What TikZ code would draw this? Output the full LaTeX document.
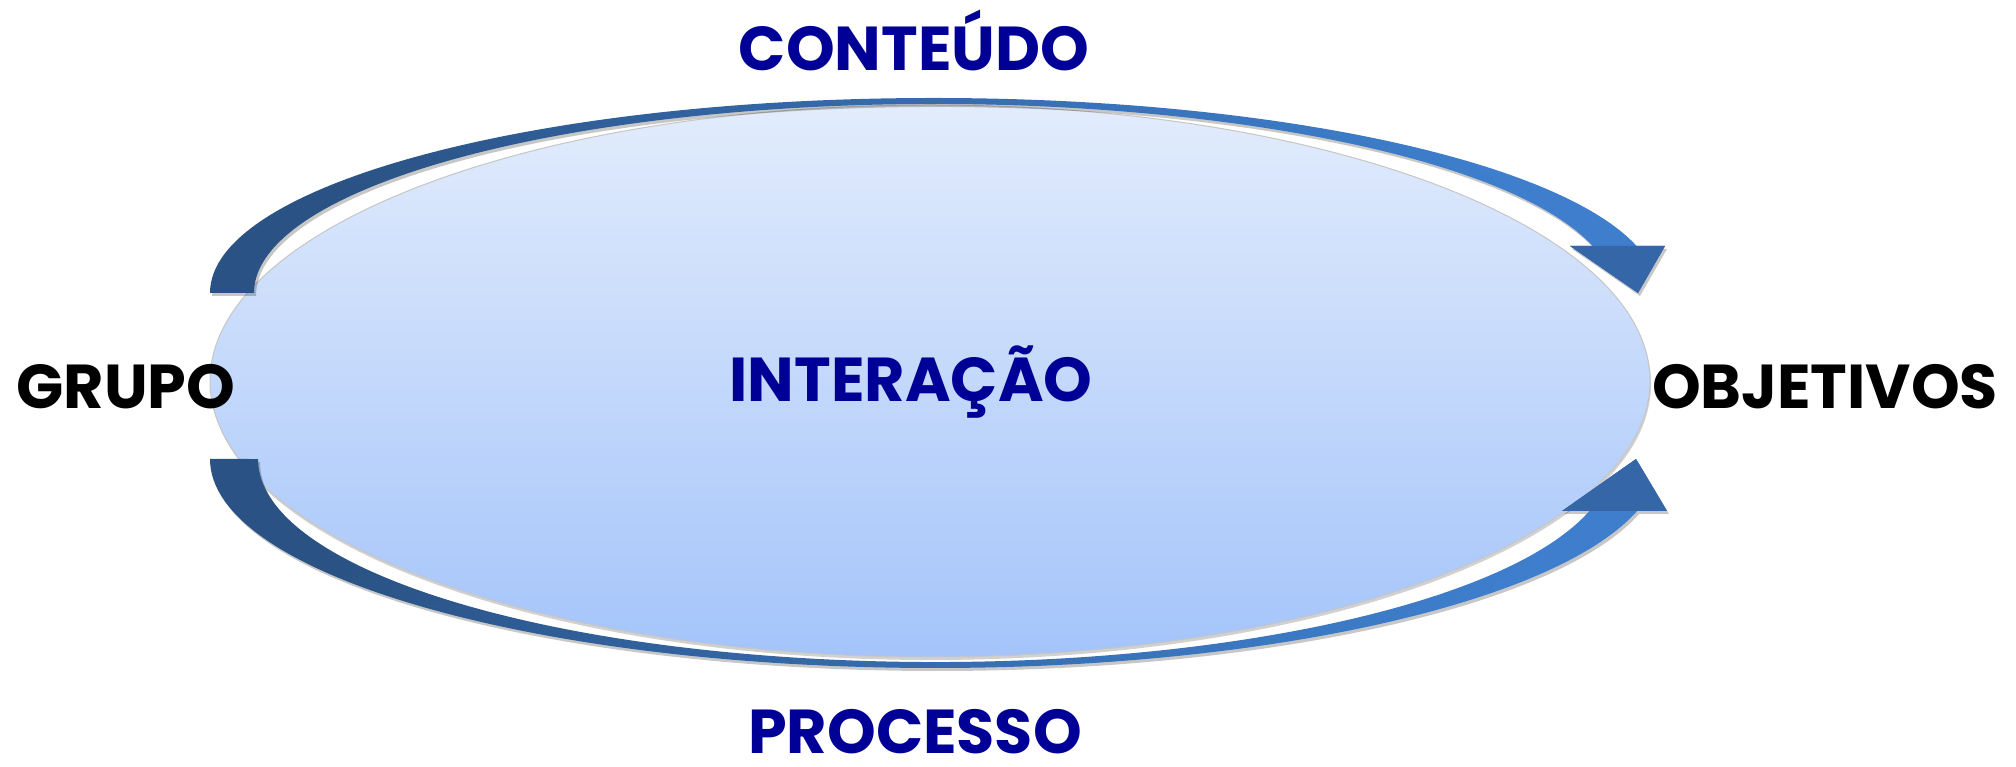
\documentclass[tikz,border=0pt]{standalone}
\usepackage{fontspec}
\setmainfont{Poppins}
\usetikzlibrary{shapes.geometric}
\definecolor{txtblue}{RGB}{0,0,150}
\definecolor{elltop}{RGB}{226,236,252}
\definecolor{ellbot}{RGB}{164,196,250}
\definecolor{arrdark}{RGB}{42,82,132}
\definecolor{arrlight}{RGB}{62,126,204}
\definecolor{arrhead}{RGB}{53,103,168}
\tikzset{
  lbl/.style={font=\fontsize{62}{66}\selectfont\bfseries, inner sep=0pt, anchor=base},
  shadowed/.style={preaction={fill=black, opacity=0.22, transform canvas={shift={(2pt,-3pt)}}}},
  headtip/.style={shadowed, fill=arrhead},
}
\begin{document}
\begin{tikzpicture}[x=1pt,y=1pt]
\useasboundingbox (0,0) rectangle (2016,767);
% central ellipse
\node (ell) [ellipse, minimum width=1440pt, minimum height=552pt, inner sep=0pt,
  top color=elltop, bottom color=ellbot, draw=gray!45, line width=1pt,
  preaction={fill=black, opacity=0.18, transform canvas={shift={(1pt,-3pt)}}}] at (930,386) {};
% top curved arrow
\path[headtip] (1665,521) -- (1638,474) -- (1570,521) -- cycle;
\path[shadowed, top color=arrlight, bottom color=arrdark, shading angle=-40]
  (210,474) arc[start angle=180, end angle=13.95, x radius=724, y radius=195]
  -- (1592.6,521)
  arc[start angle=14.4, end angle=180, x radius=680, y radius=189] -- cycle;
\fill[arrhead] (1665,521) -- (1638,474) -- (1570,521) -- cycle;
% bottom curved arrow
\path[headtip] (1667,256) -- (1636,308) -- (1562,256) -- cycle;
\path[shadowed, top color=arrdark, bottom color=arrlight, shading angle=40]
  (210,308) arc[start angle=180, end angle=345.59, x radius=725, y radius=209]
  -- (1589.4,256)
  arc[start angle=345.16, end angle=180, x radius=677, y radius=203] -- cycle;
\fill[arrhead] (1667,256) -- (1636,308) -- (1562,256) -- cycle;
% labels
\node (int) [lbl, text=txtblue] at (911,365) {INTERAÇÃO};
\node (cont) [lbl, text=txtblue] at (914,696) {CONTEÚDO};
\node (proc) [lbl, text=txtblue, text depth=0pt] at (915,13) {PROCESSO};
\node (grupo) [lbl, text=black] at (126,358) {GRUPO};
\node (obj) [lbl, text=black] at (1825,358) {OBJETIVOS};
\end{tikzpicture}
\end{document}
